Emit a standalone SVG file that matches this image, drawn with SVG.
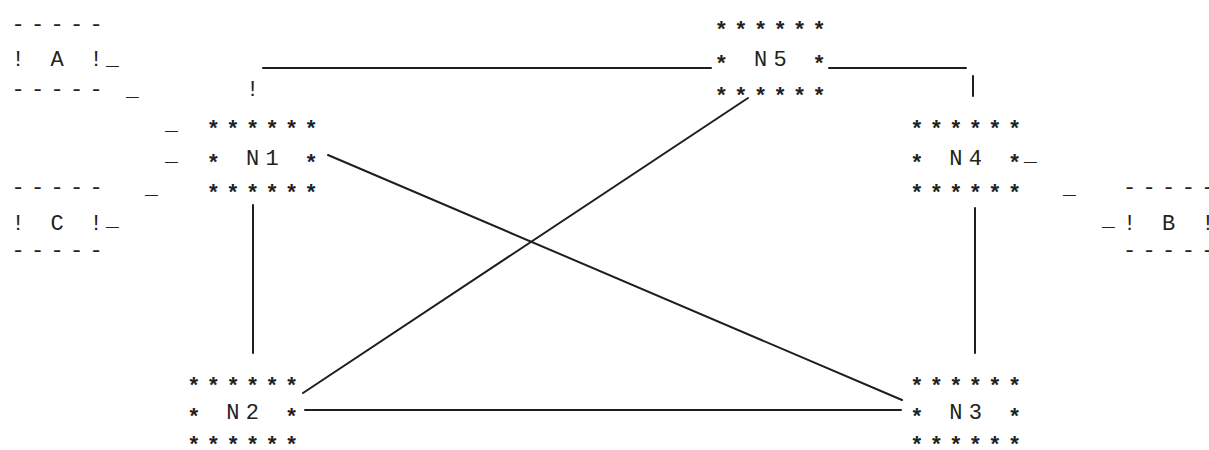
<svg xmlns="http://www.w3.org/2000/svg" width="1209" height="450" viewBox="0 0 1209 450">
<style>
text{font-family:"Liberation Mono","DejaVu Sans Mono",monospace;font-size:22px;fill:#222;letter-spacing:6.34px;white-space:pre}
.s{font-weight:bold}
.ln{stroke:#1e1e1e;stroke-width:2;fill:none;stroke-linecap:round}
</style>
<rect width="1209" height="450" fill="#ffffff"/>
<g id="connectors">
<line class="ln" x1="263" y1="68" x2="711" y2="68"/>
<line class="ln" x1="829" y1="68" x2="966" y2="68"/>
<line class="ln" x1="253" y1="205" x2="253" y2="353"/>
<line class="ln" x1="975" y1="208" x2="975" y2="353"/>
<line class="ln" x1="328" y1="155" x2="902" y2="400"/>
<line class="ln" x1="748" y1="98" x2="303" y2="393"/>
<line class="ln" x1="305" y1="410" x2="901" y2="410"/>
<text x="245.9" y="96">!</text>
<line class="ln" x1="973" y1="76" x2="973" y2="96"/>
<text x="106" y="65" textLength="19" lengthAdjust="spacingAndGlyphs">_</text>
<text x="126" y="96" textLength="19" lengthAdjust="spacingAndGlyphs">_</text>
<text x="165" y="130" textLength="19" lengthAdjust="spacingAndGlyphs">_</text>
<text x="165" y="161" textLength="19" lengthAdjust="spacingAndGlyphs">_</text>
<text x="145" y="194" textLength="19" lengthAdjust="spacingAndGlyphs">_</text>
<text x="106" y="226" textLength="19" lengthAdjust="spacingAndGlyphs">_</text>
<text x="1024" y="161" textLength="19" lengthAdjust="spacingAndGlyphs">_</text>
<text x="1063" y="194" textLength="19" lengthAdjust="spacingAndGlyphs">_</text>
<text x="1102" y="226" textLength="19" lengthAdjust="spacingAndGlyphs">_</text>
</g>
<g id="A">
<text x="11.4" y="31">-----</text>
<text x="11.4" y="66">! A !</text>
<text x="11.4" y="96">-----</text>
</g>
<g id="C">
<text x="11.4" y="194">-----</text>
<text x="11.4" y="230">! C !</text>
<text x="11.4" y="257">-----</text>
</g>
<g id="B">
<text x="1123" y="194">-----</text>
<text x="1123" y="230">! B !</text>
<text x="1123" y="257">-----</text>
</g>
<g id="N5">
<text class="s" x="714.8" y="37">******</text>
<text class="s" x="714.8" y="71">*</text>
<text x="753.9" y="66">N5</text>
<text class="s" x="812.5" y="71">*</text>
<text class="s" x="714.8" y="103">******</text>
</g>
<g id="N1">
<text class="s" x="206.8" y="136">******</text>
<text class="s" x="206.8" y="170">*</text>
<text x="245.9" y="165">N1</text>
<text class="s" x="304.5" y="170">*</text>
<text class="s" x="206.8" y="200">******</text>
</g>
<g id="N4">
<text class="s" x="910.2" y="136">******</text>
<text class="s" x="910.2" y="170">*</text>
<text x="949.3" y="165">N4</text>
<text class="s" x="1007.9" y="170">*</text>
<text class="s" x="910.2" y="200">******</text>
</g>
<g id="N2">
<text class="s" x="187.3" y="393">******</text>
<text class="s" x="187.3" y="424">*</text>
<text x="226.3" y="419">N2</text>
<text class="s" x="285" y="424">*</text>
<text class="s" x="187.3" y="452">******</text>
</g>
<g id="N3">
<text class="s" x="910.2" y="393">******</text>
<text class="s" x="910.2" y="424">*</text>
<text x="949.3" y="419">N3</text>
<text class="s" x="1007.9" y="424">*</text>
<text class="s" x="910.2" y="452">******</text>
</g>
</svg>
